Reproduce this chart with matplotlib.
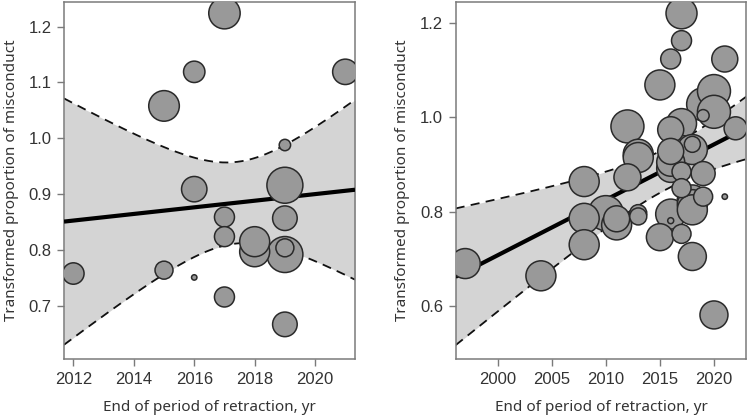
import numpy as np
import matplotlib
matplotlib.use("Agg")
import matplotlib.pyplot as plt

# ---------------- data ----------------
# Left panel
years_left = [2012, 2015, 2015, 2016, 2016, 2016, 2017, 2017, 2017, 2017,
              2018, 2018, 2019, 2019, 2019, 2019, 2019, 2019, 2021]
prop_left = [0.758, 1.058, 0.764, 1.119, 0.909, 0.751, 1.224, 0.859, 0.824, 0.716,
             0.797, 0.815, 0.916, 0.988, 0.857, 0.792, 0.804, 0.667, 1.119]
weight_left = [10.7, 15.3, 9.0, 10.7, 12.7, 2.7, 15.7, 10.0, 10.0, 10.0,
               15.0, 15.0, 18.0, 5.7, 12.3, 18.0, 9.0, 12.3, 12.7]

# Right panel
years_right = [1997, 2004, 2008, 2008, 2008, 2010, 2011, 2011, 2012, 2012,
               2013, 2013, 2013, 2013, 2015, 2015, 2016, 2016, 2016,
               2016, 2016, 2016, 2016, 2017, 2017, 2017, 2017, 2017, 2017,
               2017, 2018, 2018, 2018, 2018, 2018, 2018, 2019, 2019, 2019,
               2019, 2020, 2020, 2020, 2021, 2021, 2022]
prop_right = [0.690, 0.664, 0.864, 0.786, 0.730, 0.797, 0.772, 0.785, 0.981, 0.873,
              0.922, 0.915, 0.797, 0.790, 1.069, 0.746, 0.795, 1.124, 0.974,
              0.928, 0.892, 0.781, 0.905, 1.221, 1.163, 0.987, 0.930, 0.885, 0.850,
              0.753, 0.932, 0.943, 0.825, 0.815, 0.804, 0.705, 1.028, 1.004, 0.881,
              0.832, 1.056, 1.012, 0.581, 1.124, 0.832, 0.977]
weight_right = [15.0, 15.0, 15.0, 15.0, 15.0, 17.5, 15.0, 13.0, 16.5, 13.5,
                15.0, 15.0, 8.5, 8.5, 15.0, 13.5, 15.0, 10.0, 13.0,
                13.0, 14.0, 3.0, 14.0, 15.5, 10.0, 15.0, 15.0, 9.5, 9.5,
                9.5, 15.0, 8.0, 15.0, 15.0, 15.0, 14.0, 16.5, 6.0, 12.0,
                9.5, 16.5, 16.5, 14.0, 13.0, 2.7, 11.5]

# Meta-regression fits (centre year, fitted value at centre, slope, CI half-width terms)
fit_left = dict(center=2017.39, value=0.8847, slope=0.00592, se_center=0.073, se_slope=0.0365)
fit_right = dict(center=2015.85, value=0.894, slope=0.01176, se_center=0.0435, se_slope=0.00701)

xlim_left, ylim_left = (2011.69, 2021.32), (0.605, 1.244)
xlim_right, ylim_right = (1996.12, 2022.99), (0.4875, 1.245)
xticks_left = [2012, 2014, 2016, 2018, 2020]
yticks_left = [0.7, 0.8, 0.9, 1.0, 1.1, 1.2]
xticks_right = [2000, 2005, 2010, 2015, 2020]
yticks_right = [0.6, 0.8, 1.0, 1.2]

xlabel = "End of period of retraction, yr"
ylabel = "Transformed proportion of misconduct"

# ---------------- plotting ----------------
W, H = 748, 418
fig = plt.figure(figsize=(W / 100, H / 100), dpi=100)

label_font = ["Noto Sans", "DejaVu Sans"]
tick_font = ["Liberation Sans", "DejaVu Sans"]
spine_col = "#7a7a7a"
text_col = "#333333"


def panel(rect, years, props, weights, fit, xlim, ylim, xticks, yticks, fmt):
    ax = fig.add_axes(rect)
    ax.set_xlim(*xlim)
    ax.set_ylim(*ylim)
    xs = np.linspace(xlim[0], xlim[1], 300)
    dx = xs - fit["center"]
    yhat = fit["value"] + fit["slope"] * dx
    hw = np.sqrt(fit["se_center"] ** 2 + (fit["se_slope"] * dx) ** 2)
    ax.fill_between(xs, yhat - hw, yhat + hw, color="#d4d4d4", lw=0, zorder=1)
    ax.plot(xs, yhat + hw, color="#111111", lw=1.3, ls=(0, (5, 3.5)), zorder=2)
    ax.plot(xs, yhat - hw, color="#111111", lw=1.3, ls=(0, (5, 3.5)), zorder=2)
    ax.plot(xs, yhat, color="#000000", lw=3.0, zorder=3, solid_capstyle="butt")

    years = np.asarray(years, float)
    props = np.asarray(props, float)
    weights = np.asarray(weights, float)
    order = np.argsort(-weights, kind="stable")
    sizes = (2 * weights * 0.72) ** 2
    ax.scatter(years[order], props[order], s=sizes[order], c="#999999",
               edgecolors="#2a2a2a", linewidths=1.1, zorder=4)

    ax.set_xticks(xticks)
    ax.set_yticks(yticks)
    ax.set_xticklabels([str(t) for t in xticks], fontfamily=tick_font, fontsize=12, color=text_col)
    ax.set_yticklabels([fmt.format(t) for t in yticks], fontfamily=tick_font, fontsize=12, color=text_col)
    ax.tick_params(direction="out", length=5, width=1, color=spine_col, pad=4)
    for s in ax.spines.values():
        s.set_color(spine_col)
        s.set_linewidth(1.1)
    ax.set_xlabel(xlabel, fontfamily=label_font, fontsize=11, color=text_col, labelpad=10)
    ax.set_ylabel(ylabel, fontfamily=label_font, fontsize=11, color=text_col, labelpad=7)
    return ax


axh = (359 - 2) / H
axb = 1 - 359 / H
panel([64 / W, axb, (355 - 64) / W, axh], years_left, prop_left, weight_left, fit_left,
      xlim_left, ylim_left, xticks_left, yticks_left, "{:.1f}")
panel([455.7 / W, axb, (746.3 - 455.7) / W, axh], years_right, prop_right, weight_right, fit_right,
      xlim_right, ylim_right, xticks_right, yticks_right, "{:.1f}")

fig.savefig("out.png", dpi=100)
